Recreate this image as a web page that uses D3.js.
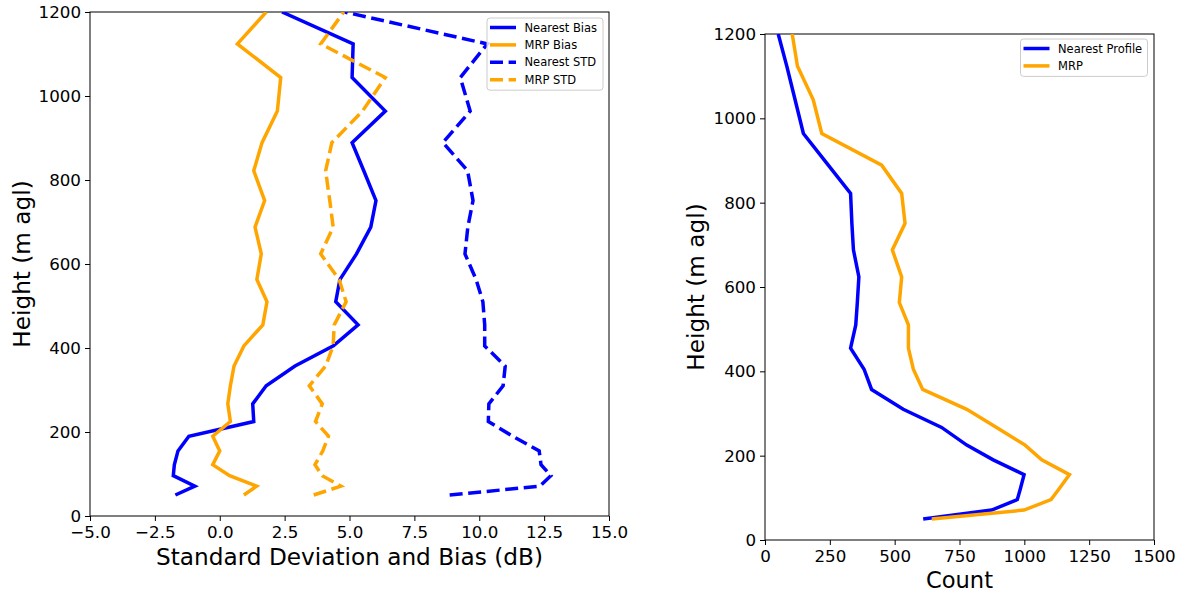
<!DOCTYPE html>
<html>
<head>
<meta charset="utf-8">
<script src="https://cdn.jsdelivr.net/npm/d3@7"></script>
<style>
  html, body { margin: 0; padding: 0; background: #fff; }
  svg { display: block; font-family: "DejaVu Sans", sans-serif; }
</style>
</head>
<body>
<svg id="chart" width="1184" height="592"></svg>
<script>
// Height levels (m agl) shared by every profile
const heights = [50, 71, 96, 122, 155, 190, 225, 267, 310, 357, 405, 455, 510, 563, 624, 688, 751, 822, 889, 964, 1044, 1124, 1200];

// Left panel: bias and standard deviation (dB)
const nearestBias = [-1.71, -0.96, -1.79, -1.75, -1.61, -1.19, 1.31, 1.27, 1.79, 2.90, 4.38, 5.33, 4.47, 4.63, 5.27, 5.82, 6.02, 5.55, 5.10, 6.38, 5.10, 5.14, 2.40];
const mrpBias     = [0.93, 1.42, 0.38, -0.27, 0.00, -0.27, 0.41, 0.31, 0.41, 0.55, 0.93, 1.66, 1.82, 1.43, 1.60, 1.36, 1.73, 1.31, 1.63, 2.22, 2.35, 0.68, 1.79];
const nearestStd  = [8.86, 12.34, 12.76, 12.38, 12.31, 11.29, 10.35, 10.37, 10.92, 11.00, 10.21, 10.21, 10.14, 9.88, 9.45, 9.56, 9.76, 9.55, 8.60, 9.65, 9.27, 10.31, 4.81];
const mrpStd      = [3.62, 4.67, 3.95, 3.67, 3.97, 4.19, 3.69, 3.95, 3.45, 4.08, 4.37, 4.41, 4.87, 4.60, 3.89, 4.37, 4.24, 4.08, 4.32, 5.50, 6.38, 3.89, 4.78];

// Right panel: sample counts
const nearestCount = [610, 874, 973, 985, 999, 880, 778, 681, 533, 411, 382, 330, 350, 356, 362, 341, 335, 330, 244, 148, 116, 84, 51];
const mrpCount     = [643, 999, 1103, 1135, 1174, 1067, 1003, 893, 778, 608, 572, 553, 553, 518, 527, 491, 540, 527, 450, 219, 186, 125, 105];

// Axis ticks
const leftXTicks  = [-5, -2.5, 0, 2.5, 5, 7.5, 10, 12.5, 15];
const leftYTicks  = [0, 200, 400, 600, 800, 1000, 1200];
const rightXTicks = [0, 250, 500, 750, 1000, 1250, 1500];
const rightYTicks = [0, 200, 400, 600, 800, 1000, 1200];

const leftLegend  = ["Nearest Bias", "MRP Bias", "Nearest STD", "MRP STD"];
const rightLegend = ["Nearest Profile", "MRP"];

const BLUE = "#0000ff", ORANGE = "#ffa500";
const LW = 3.5, DASH = "13,5.6";
const TICK_FONT = 16.7, LEGEND_FONT = 11.5;

const svg = d3.select("#chart");
const minus = s => s.replace(/-/g, "\u2212");

function panel(box, xDomain, xTicks, xFmt, yTicks, xLabel, xLabelFont, yLabelX, xLabelY) {
  const x = d3.scaleLinear().domain(xDomain).range([box.x0, box.x1]);
  const y = d3.scaleLinear().domain([0, 1200]).range([box.y1, box.y0]);
  const g = svg.append("g");

  const xAxis = g.append("g").attr("transform", `translate(0,${box.y1})`)
    .call(d3.axisBottom(x).tickValues(xTicks).tickFormat(d => minus(xFmt(d))).tickSize(5).tickPadding(5.5));
  const yAxis = g.append("g").attr("transform", `translate(${box.x0},0)`)
    .call(d3.axisLeft(y).tickValues(yTicks).tickFormat(d3.format("d")).tickSize(5).tickPadding(4));
  [xAxis, yAxis].forEach(a => {
    a.select(".domain").remove();
    a.selectAll("line").attr("stroke", "#000").attr("stroke-width", 1);
    a.selectAll("text").attr("font-size", TICK_FONT).attr("fill", "#000")
      .attr("font-family", "DejaVu Sans, sans-serif");
  });

  // frame
  g.append("rect").attr("x", box.x0).attr("y", box.y0)
    .attr("width", box.x1 - box.x0).attr("height", box.y1 - box.y0)
    .attr("fill", "none").attr("stroke", "#000").attr("stroke-width", 1);

  g.append("text").attr("x", (box.x0 + box.x1) / 2).attr("y", xLabelY)
    .attr("text-anchor", "middle").attr("font-size", xLabelFont).text(xLabel);
  g.append("text")
    .attr("transform", `translate(${yLabelX},${(box.y0 + box.y1) / 2}) rotate(-90)`)
    .attr("text-anchor", "middle").attr("dy", "0.35em").attr("font-size", 23.2).text("Height (m agl)");

  const clipId = "clip" + Math.round(box.x0);
  svg.append("clipPath").attr("id", clipId).append("rect")
    .attr("x", box.x0).attr("y", box.y0).attr("width", box.x1 - box.x0).attr("height", box.y1 - box.y0);
  const plot = g.append("g").attr("clip-path", `url(#${clipId})`);
  return { x, y, g, plot };
}

function profile(p, values, color, dashed) {
  const line = d3.line().x((d, i) => p.x(values[i])).y(d => p.y(d));
  p.plot.append("path").datum(heights)
    .attr("d", line).attr("fill", "none").attr("stroke", color)
    .attr("stroke-width", LW).attr("stroke-linejoin", "miter")
    .attr("stroke-dasharray", dashed ? DASH : null);
}

function legend(box, items) {
  const rowH = 17.4;
  const g = svg.append("g");
  g.append("rect").attr("x", box.x).attr("y", box.y).attr("width", box.w)
    .attr("height", (items.length - 1) * rowH + 20).attr("rx", 3)
    .attr("fill", "#fff").attr("fill-opacity", 0.8).attr("stroke", "#cccccc").attr("stroke-width", 1);
  items.forEach((it, i) => {
    const cy = box.y + 9.5 + i * rowH;
    g.append("line").attr("x1", box.x + 3).attr("x2", box.x + 29).attr("y1", cy).attr("y2", cy)
      .attr("stroke", it.color).attr("stroke-width", LW).attr("stroke-dasharray", it.dashed ? DASH : null);
    g.append("text").attr("x", box.x + 37.5).attr("y", cy).attr("dy", "0.36em")
      .attr("font-size", LEGEND_FONT).attr("fill", "#000").text(it.label);
  });
}

// ---- left panel ----
const L = panel({ x0: 90, x1: 609, y0: 12, y1: 516 }, [-5, 15], leftXTicks, d3.format(".1f"),
  leftYTicks, "Standard Deviation and Bias (dB)", 23.2, 22, 565);
profile(L, nearestBias, BLUE, false);
profile(L, mrpBias, ORANGE, false);
profile(L, nearestStd, BLUE, true);
profile(L, mrpStd, ORANGE, true);
legend({ x: 487, y: 18, w: 116 }, [
  { label: leftLegend[0], color: BLUE, dashed: false },
  { label: leftLegend[1], color: ORANGE, dashed: false },
  { label: leftLegend[2], color: BLUE, dashed: true },
  { label: leftLegend[3], color: ORANGE, dashed: true }
]);

// ---- right panel ----
const R = panel({ x0: 765, x1: 1154, y0: 34, y1: 540 }, [0, 1500], rightXTicks, d3.format("d"),
  rightYTicks, "Count", 22.6, 696, 588);
profile(R, nearestCount, BLUE, false);
profile(R, mrpCount, ORANGE, false);
legend({ x: 1020.5, y: 39, w: 127 }, [
  { label: rightLegend[0], color: BLUE, dashed: false },
  { label: rightLegend[1], color: ORANGE, dashed: false }
]);
</script>
</body>
</html>
